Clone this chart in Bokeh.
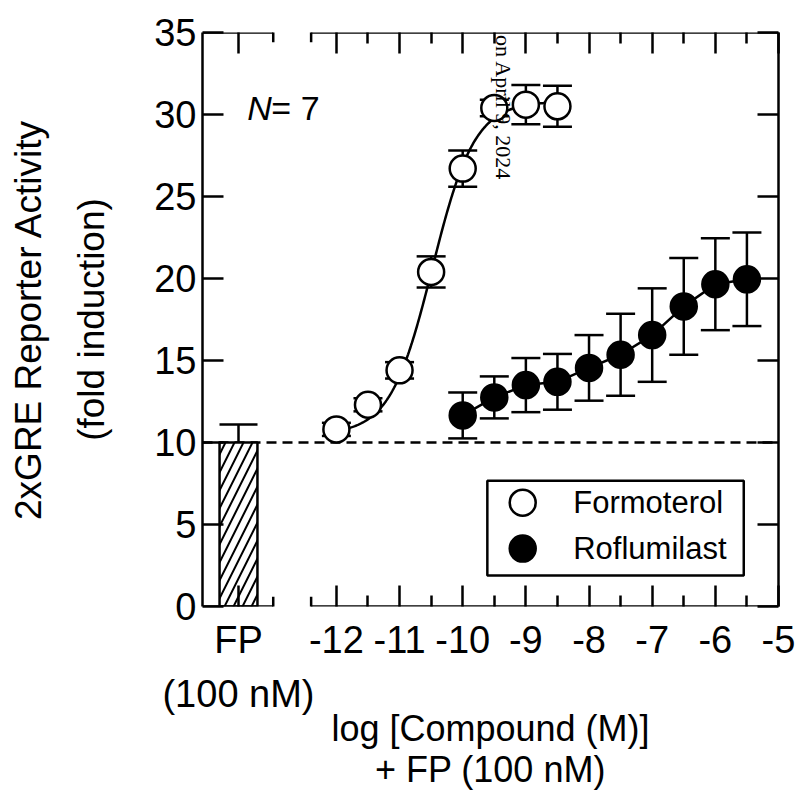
import numpy as np
from bokeh.plotting import figure
from bokeh.models import (Range1d, FixedTicker, LinearAxis, Whisker, TeeHead, Title,
                          ColumnDataSource, Span, Arrow, Label, BoxAnnotation)
from bokeh.embed import file_html
from bokeh.resources import INLINE

# ---------------- data ----------------
form_logc = [-12.0, -11.5, -11.0, -10.5, -10.0, -9.5, -9.0, -8.5]
form_mean = [10.8, 12.3, 14.4, 20.4, 26.7, 30.4, 30.6, 30.5]
form_sem = [0.4, 0.4, 0.5, 0.95, 1.1, 0.5, 1.2, 1.25]

rof_logc = [-10.0, -9.5, -9.0, -8.5, -8.0, -7.5, -7.0, -6.5, -6.0, -5.5]
rof_mean = [11.65, 12.75, 13.5, 13.7, 14.55, 15.35, 16.55, 18.3, 19.65, 19.95]
rof_sem = [1.4, 1.28, 1.65, 1.7, 2.0, 2.5, 2.85, 2.95, 2.8, 2.85]

fp_value = 10.0
fp_sem = 1.1
baseline_level = 10.0

# Formoterol 4-parameter logistic fit
fit_bottom, fit_top, fit_logec50, fit_hill = 10.5, 30.8, -10.48, 1.3

y_ticks = [0, 5, 10, 15, 20, 25, 30, 35]
x_ticks = [-12, -11, -10, -9, -8, -7, -6, -5]
x_minor = [-11.5, -10.5, -9.5, -8.5, -7.5, -6.5, -5.5]
x_tick_labels = ["-12", "-11", "-10", "-9", "-8", "-7", "-6", "-5"]
fp_label = "FP\n(100 nM)"

series_names = ["Formoterol", "Roflumilast"]
x_title = ["log [Compound (M)]", "+ FP (100 nM)"]
y_title = ["2xGRE Reporter Activity", "(fold induction)"]

# ---------------- layout constants ----------------
FP_X = -13.55          # position of the FP bar in the left (broken) panel
LEFT_END = -13.0       # end of the left panel
RIGHT_START = -12.4    # start of the right panel
X0, X1 = -14.12, -5.0
Y0, Y1 = 0.0, 35.0

FONT = "Liberation Sans"
LW = 2.5

p = figure(width=797, height=800, x_range=Range1d(X0, X1), y_range=Range1d(Y0, Y1),
           output_backend="svg", toolbar_location=None,
           min_border_left=202, min_border_right=19, min_border_top=32,
           min_border_bottom=193)
p.grid.visible = False
p.outline_line_color = None
p.background_fill_color = "white"
p.border_fill_color = "white"

all_x_ticks = [FP_X] + x_ticks
overrides = {FP_X: fp_label}
for t, s in zip(x_ticks, x_tick_labels):
    overrides[t] = s


def style_axis(ax, show_labels=True, size="38px"):
    ax.axis_line_width = LW
    ax.axis_line_color = "black"
    ax.major_tick_line_width = LW
    ax.minor_tick_line_width = LW
    ax.major_tick_line_color = "black"
    ax.minor_tick_line_color = "black"
    ax.major_tick_in = 21
    ax.major_tick_out = 0
    ax.minor_tick_in = 11
    ax.minor_tick_out = 0
    ax.major_label_text_font = FONT
    if show_labels:
        ax.major_label_text_color = "black"
        ax.major_label_text_font_size = size
    else:
        ax.major_label_text_color = None
        ax.major_label_text_font_size = "1px"
        ax.major_label_standoff = 0


# bottom axis
xb = p.xaxis[0]
xb.ticker = FixedTicker(ticks=all_x_ticks, minor_ticks=x_minor)
xb.major_label_overrides = overrides
style_axis(xb)
xb.axis_line_color = None
xb.major_label_standoff = 12
xb.major_label_text_line_height = 1.3

# left axis
yl = p.yaxis[0]
yl.ticker = FixedTicker(ticks=y_ticks, minor_ticks=[])
style_axis(yl)
yl.major_label_standoff = 6

# top axis
xt = LinearAxis(ticker=FixedTicker(ticks=all_x_ticks, minor_ticks=x_minor))
style_axis(xt, show_labels=False)
xt.axis_line_color = None
p.add_layout(xt, "above")

# right axis
yr = LinearAxis(ticker=FixedTicker(ticks=y_ticks, minor_ticks=[]))
style_axis(yr, show_labels=False)
p.add_layout(yr, "right")

# axis titles (side panels)
TKW = dict(text_font=FONT, text_font_style="normal", text_color="black", align="center")
p.add_layout(Title(text=y_title[1], text_font_size="37px", offset=6, standoff=80, **TKW), "left")
p.add_layout(Title(text=y_title[0], text_font_size="37px", offset=6, standoff=-40, **TKW), "left")
p.add_layout(Title(text=x_title[0], text_font_size="36px", offset=62, standoff=-25, **TKW), "below")
p.add_layout(Title(text=x_title[1], text_font_size="36px", offset=50, standoff=21,
                   text_line_height=0.8, **TKW), "below")

# broken top / bottom spines with end caps
for yy in (Y0, Y1):
    for xa, xe in ((X0, LEFT_END), (RIGHT_START, X1)):
        p.add_layout(Arrow(end=None, x_start=xa, y_start=yy, x_end=xe, y_end=yy,
                           line_width=LW, line_color="black"))
    for xc in (LEFT_END, RIGHT_START):
        p.add_layout(Arrow(end=None, x_start=xc, y_start=yy - 0.6, x_end=xc,
                           y_end=yy + 0.6, line_width=LW, line_color="black"))

# baseline dashed line
p.add_layout(Span(location=baseline_level, dimension="width", line_dash="10 6",
                  line_width=LW, line_color="black", level="underlay"))

# FP bar
p.vbar(x=[FP_X], top=[fp_value], width=0.6, bottom=0, fill_color="white",
       line_color="black", line_width=LW, hatch_pattern="/", hatch_scale=18,
       hatch_weight=2.0, hatch_color="black")
fp_src = ColumnDataSource(dict(x=[FP_X], lower=[fp_value], upper=[fp_value + fp_sem]))
p.add_layout(Whisker(source=fp_src, base="x", lower="lower", upper="upper",
                     dimension="height", line_width=LW, line_color="black",
                     lower_head=None,
                     upper_head=TeeHead(size=38, line_width=LW, line_color="black"),
                     level="underlay"))

# error bars
fm = np.array(form_mean)
fs = np.array(form_sem)
rm = np.array(rof_mean)
rs = np.array(rof_sem)
f_err = ColumnDataSource(dict(x=form_logc, lower=fm - fs, upper=fm + fs))
r_err = ColumnDataSource(dict(x=rof_logc, lower=rm - rs, upper=rm + rs))
for src in (f_err, r_err):
    p.add_layout(Whisker(source=src, base="x", lower="lower", upper="upper",
                         dimension="height", line_width=LW, line_color="black",
                         lower_head=TeeHead(size=29, line_width=LW, line_color="black"),
                         upper_head=TeeHead(size=29, line_width=LW, line_color="black"),
                         level="underlay"))

# Formoterol fitted curve
xc = np.linspace(min(form_logc), max(form_logc), 300)
yc = fit_bottom + (fit_top - fit_bottom) / (1 + 10 ** ((fit_logec50 - xc) * fit_hill))
p.line(xc, yc, line_width=LW, line_color="black")

# Roflumilast line
p.line(rof_logc, rof_mean, line_width=LW, line_color="black")

p.scatter(form_logc, form_mean, size=26, fill_color="white", line_color="black",
          line_width=LW)
p.scatter(rof_logc, rof_mean, size=26, fill_color="black", line_color="black",
          line_width=LW)

# legend (manual box)
p.add_layout(BoxAnnotation(left=-9.61, right=-5.55, bottom=1.89, top=7.67,
                           fill_color=None, line_color="black", line_alpha=1.0,
                           line_width=LW, level="underlay"))
p.scatter([-9.05], [6.33], size=26, fill_color="white", line_color="black", line_width=LW)
p.scatter([-9.05], [3.53], size=26, fill_color="black", line_color="black", line_width=LW)
for yy, name in zip((6.33, 3.53), series_names):
    p.add_layout(Label(x=-8.25, y=yy, text=name, text_font=FONT,
                       text_font_size="31px", text_baseline="middle",
                       text_align="left", text_color="black"))

# N = 7
p.add_layout(Label(x=-13.41, y=30.37, text="N", text_font=FONT, text_font_size="34px",
                   text_font_style="italic", text_baseline="alphabetic", text_color="black"))
p.add_layout(Label(x=-13.03, y=30.37, text="= 7", text_font=FONT, text_font_size="34px",
                   text_baseline="alphabetic", text_color="black"))

# watermark fragment
p.add_layout(Label(x=503, y=180, x_units="canvas", y_units="canvas",
                   text="s on April 9, 2024", text_font="Liberation Serif",
                   text_font_size="22px", text_align="right", text_baseline="alphabetic",
                   text_color="black", angle=-np.pi / 2))

open("out.html", "w").write(file_html(p, INLINE))
